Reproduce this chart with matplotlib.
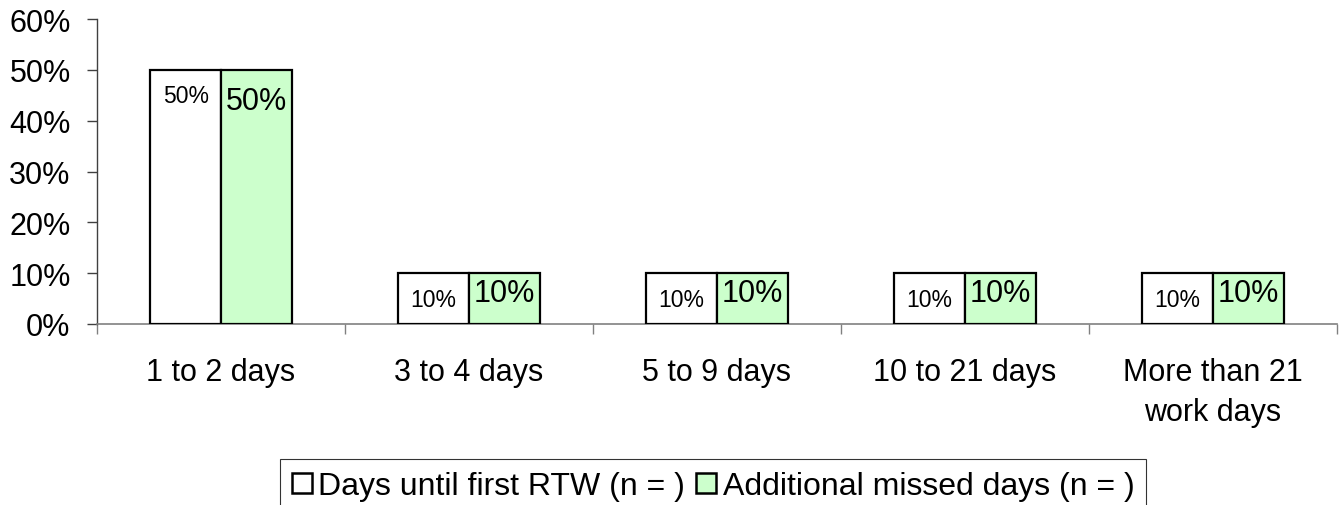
import matplotlib
matplotlib.use("Agg")
import matplotlib.pyplot as plt
from matplotlib.patches import Rectangle
import numpy as np

categories = ["1 to 2 days", "3 to 4 days", "5 to 9 days", "10 to 21 days",
              "More than 21\nwork days"]
days_until_first_rtw = [0.50, 0.10, 0.10, 0.10, 0.10]
additional_missed_days = [0.50, 0.10, 0.10, 0.10, 0.10]
series_names = ["Days until first RTW (n = )", "Additional missed days (n = )"]
y_ticks = [0.0, 0.1, 0.2, 0.3, 0.4, 0.5, 0.6]

plt.rcParams["font.family"] = ["Liberation Sans", "DejaVu Sans"]

W, H, DPI = 1344, 506, 100
fig = plt.figure(figsize=(W / DPI, H / DPI), dpi=DPI)
ax = fig.add_axes([97 / W, 1 - 325 / H, (1337 - 97) / W, (325 - 20) / H])

green = "#CCFFCC"
bar_w = 0.285
x = np.arange(len(categories))

b1 = ax.bar(x - bar_w / 2, days_until_first_rtw, width=bar_w, color="white",
            edgecolor="black", linewidth=1.6, zorder=3)
b2 = ax.bar(x + bar_w / 2, additional_missed_days, width=bar_w, color=green,
            edgecolor="black", linewidth=1.6, zorder=3)

# value labels inside the top of each bar
for rect, v in zip(b1, days_until_first_rtw):
    ax.annotate(f"{v:.0%}", (rect.get_x() + rect.get_width() / 2, v),
                xytext=(0, -26 * 72 / DPI), textcoords="offset points",
                ha="center", va="center", fontsize=16.5, zorder=4)
for rect, v in zip(b2, additional_missed_days):
    off = 31 if v >= 0.3 else 20
    ax.annotate(f"{v:.0%}", (rect.get_x() + rect.get_width() / 2, v),
                xytext=(0, -off * 72 / DPI), textcoords="offset points",
                ha="center", va="center", fontsize=22, zorder=4)

ax.set_xlim(-0.5, len(categories) - 0.5)
ax.set_ylim(0, 0.6)
ax.set_yticks(y_ticks)
ax.set_yticklabels([f"{t:.0%}" for t in y_ticks], fontsize=22)
ax.tick_params(axis="y", direction="out", length=7, width=1, color="#404040",
               pad=12)

ax.set_xticks(x)
ax.set_xticklabels(categories, fontsize=22, linespacing=1.42)
ax.tick_params(axis="x", which="major", length=0, pad=24)
ax.set_xticks(np.arange(len(categories) + 1) - 0.5, minor=True)
ax.tick_params(axis="x", which="minor", direction="out", length=7, width=1,
               color="#808080")

for s in ["top", "right"]:
    ax.spines[s].set_visible(False)
ax.spines["left"].set_color("#404040")
ax.spines["bottom"].set_color("#808080")
ax.spines["left"].set_linewidth(1)
ax.spines["bottom"].set_linewidth(1.2)

handles = [Rectangle((0, 0), 1, 1, facecolor="white", edgecolor="black", linewidth=1.8),
           Rectangle((0, 0), 1, 1, facecolor=green, edgecolor="black", linewidth=1.8)]
leg = fig.legend(handles, series_names, loc="upper left",
                 bbox_to_anchor=(280 / W, 1 - 460 / H), ncol=2, fontsize=23,
                 frameon=True, fancybox=False, borderpad=0.38,
                 handlelength=0.62, handleheight=0.62, handletextpad=0.2,
                 columnspacing=0.35, borderaxespad=0)
leg.get_frame().set_edgecolor("black")
leg.get_frame().set_linewidth(0.8)

fig.savefig("out.png", dpi=DPI)
